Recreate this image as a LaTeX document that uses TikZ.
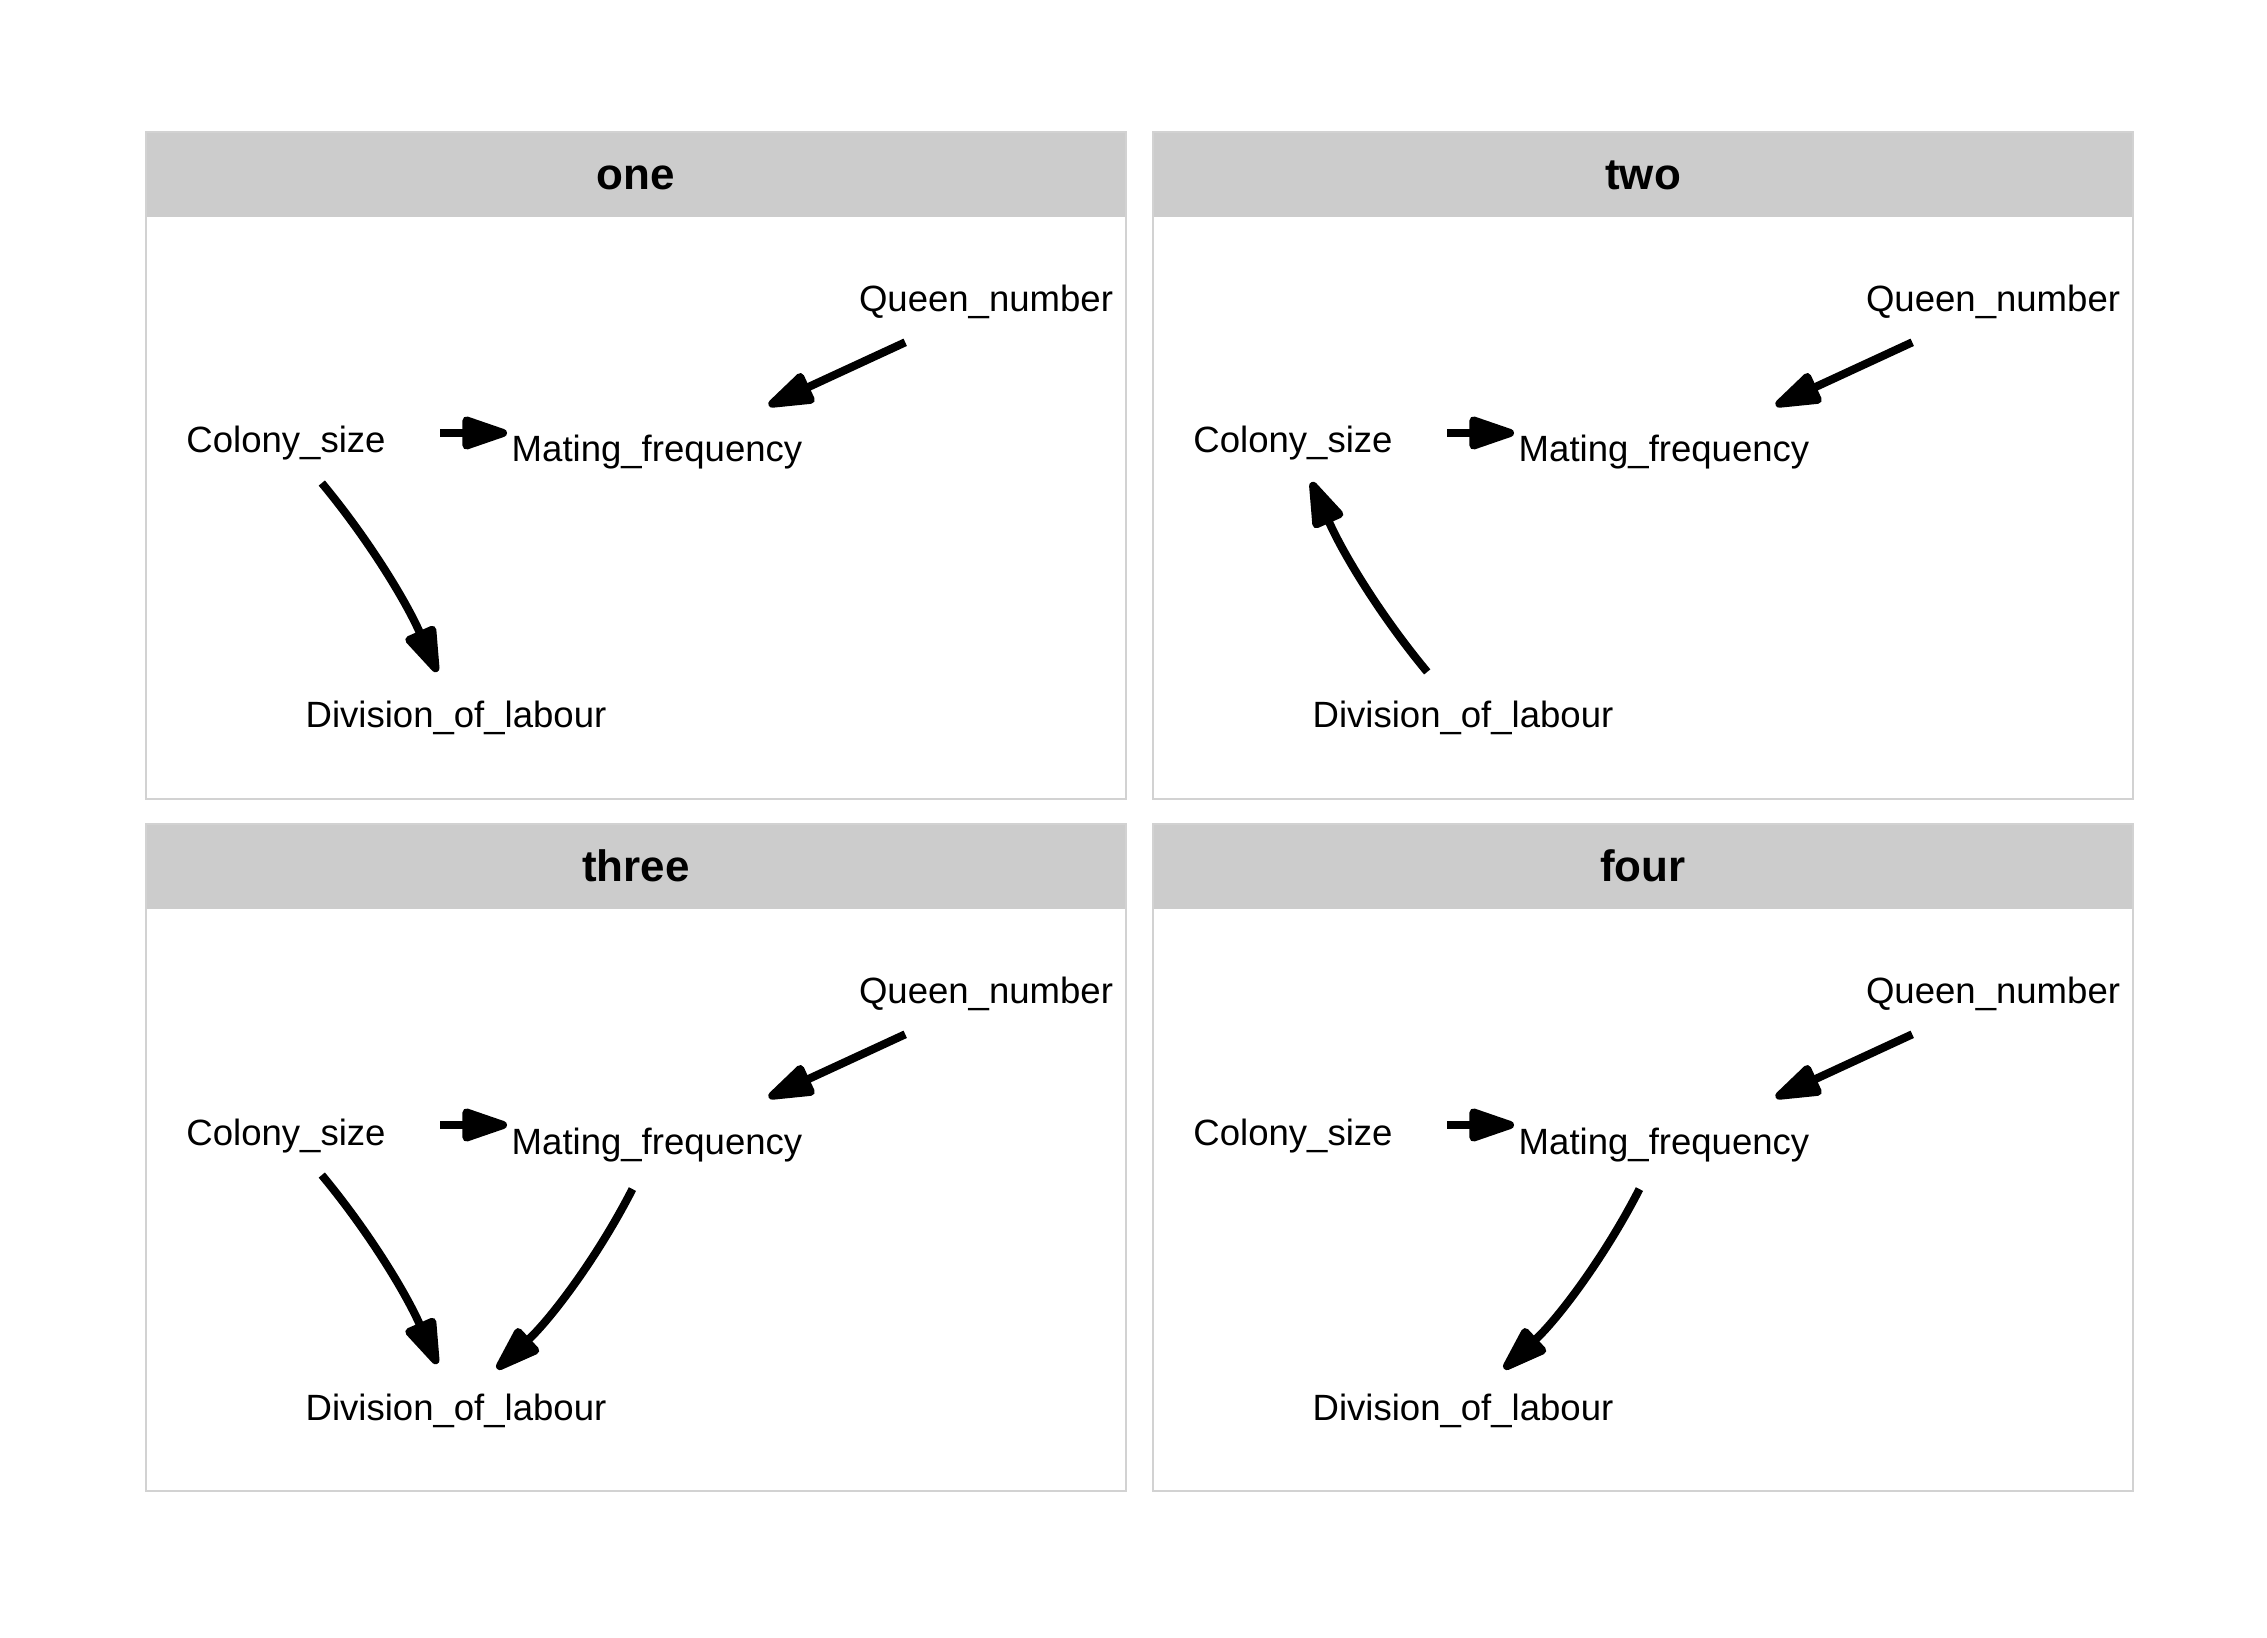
\documentclass[tikz,border=0pt]{standalone}
\usepackage{fontspec}
\setmainfont{Liberation Sans}
\usetikzlibrary{arrows.meta}
\definecolor{stripgray}{HTML}{CCCCCC}
\definecolor{framegray}{HTML}{D2D2D2}
\begin{document}
\begin{tikzpicture}
[lbl/.style={inner sep=0pt,text height=7.4pt,text depth=0pt,font=\fontsize{10.4}{12}\selectfont},
ttl/.style={anchor=base,inner sep=0pt,font=\bfseries\fontsize{12.5}{15}\selectfont},
edge/.style={line width=2.3pt,-{Triangle[length=5.4mm,width=3.4mm,round]}}]
\useasboundingbox (0,0) rectangle (22.67,16.37);
\foreach \p/\dx/\dy/\facet in {1/0/0/one,2/10.07/0/two,3/0/-6.92/three,4/10.07/-6.92/four}
{
\begin{scope}[shift={(\dx,\dy)}]
\fill[stripgray] (1.46,14.2) rectangle (11.26,15.05);
\draw[framegray,line width=0.5pt] (1.46,8.38) rectangle (11.26,15.05);
\node[ttl] (t\p) at (6.36,14.47) {\facet};
\node[lbl] (qn\p) at (9.86,13.38) {Queen\_number};
\node[lbl] (cs\p) at (2.86,11.97) {Colony\_size};
\node[lbl] (mf\p) at (6.57,11.88) {Mating\_frequency};
\node[lbl] (dl\p) at (4.56,9.22) {Division\_of\_labour};
\end{scope}
}
\foreach \p in {1,...,4}
{
\draw[edge,shorten <=0.89cm,shorten >=1.23cm] ([yshift=-0.06cm]qn\p.center) -- ([yshift=-0.08cm]mf\p.center);
\draw[edge,shorten <=1.54cm,shorten >=1.5cm] ([yshift=0.07cm]cs\p.center) -- ([yshift=0.16cm]mf\p.center);
}
\foreach \p in {1,3}
\draw[edge,shorten <=0.56cm,shorten >=0.47cm] (cs\p.center) to[bend left=8] (dl\p.center);
\draw[edge,shorten <=0.56cm,shorten >=0.46cm] (dl2.center) to[bend left=8] (cs2.center);
\foreach \p in {3,4}
\draw[edge,shorten <=0.54cm,shorten >=0.56cm] (mf\p.center) to[bend left=10] (dl\p.center);
\end{tikzpicture}
\end{document}
